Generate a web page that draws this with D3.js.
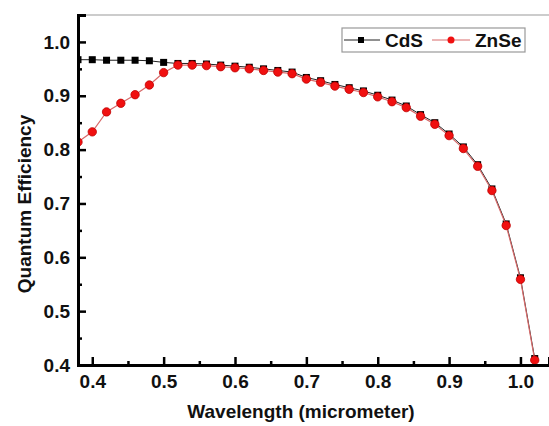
<!DOCTYPE html>
<html>
<head>
<meta charset="utf-8">
<script src="https://cdn.jsdelivr.net/npm/d3@7"></script>
<style>
  body { margin: 0; background: #fff; }
  text { font-family: "Liberation Sans", Arial, sans-serif; font-weight: bold; fill: #111; }
</style>
</head>
<body>
<div id="chart"></div>
<script>
const WIDTH = 549;
const HEIGHT = 426;

// wavelength in micrometer
const wavelength = [0.38, 0.40, 0.42, 0.44, 0.46, 0.48, 0.50, 0.52, 0.54, 0.56, 0.58, 0.60,
  0.62, 0.64, 0.66, 0.68, 0.70, 0.72, 0.74, 0.76, 0.78, 0.80, 0.82, 0.84, 0.86, 0.88,
  0.90, 0.92, 0.94, 0.96, 0.98, 1.00, 1.02];

const cds = [0.967, 0.967, 0.966, 0.966, 0.966, 0.965, 0.962, 0.960, 0.960, 0.959, 0.957, 0.955,
  0.953, 0.950, 0.947, 0.944, 0.934, 0.928, 0.921, 0.915, 0.909, 0.901, 0.892, 0.881, 0.865, 0.850,
  0.829, 0.805, 0.772, 0.727, 0.662, 0.562, 0.412];

const znse = [0.814, 0.833, 0.870, 0.886, 0.902, 0.920, 0.943, 0.957, 0.957, 0.956, 0.954, 0.952,
  0.950, 0.947, 0.944, 0.941, 0.931, 0.925, 0.918, 0.912, 0.906, 0.898, 0.889, 0.878, 0.862, 0.847,
  0.826, 0.802, 0.769, 0.724, 0.659, 0.559, 0.409];

const xTicks = [0.4, 0.5, 0.6, 0.7, 0.8, 0.9, 1.0];
const yTicks = [0.4, 0.5, 0.6, 0.7, 0.8, 0.9, 1.0];

const M = { left: 78, top: 15, right: 549, bottom: 365 };

const svg = d3.select("#chart")
  .append("svg")
    .attr("width", WIDTH)
    .attr("height", HEIGHT);

svg.append("clipPath")
  .attr("id", "plot-clip")
  .append("rect")
    .attr("x", M.left).attr("y", M.top)
    .attr("width", M.right - M.left).attr("height", M.bottom - M.top);

const x = d3.scaleLinear()
  .domain([0.38, 1.04])
  .range([M.left, M.right]);

const y = d3.scaleLinear()
  .domain([0.4, 1.05])
  .range([M.bottom, M.top]);

// top frame line
svg.append("line")
  .attr("x1", M.left).attr("x2", M.right)
  .attr("y1", M.top).attr("y2", M.top)
  .attr("stroke", "#bbb")
  .attr("stroke-width", 1.5);

const cdsData = wavelength.map((w, i) => ({ w, v: cds[i] }));
const znseData = wavelength.map((w, i) => ({ w, v: znse[i] }));

const line = d3.line().x(d => x(d.w)).y(d => y(d.v));

const plot = svg.append("g").attr("clip-path", "url(#plot-clip)");

plot.append("path")
  .datum(cdsData)
  .attr("d", line)
  .attr("fill", "none")
  .attr("stroke", "#222")
  .attr("stroke-width", 1);

plot.selectAll(".sq")
  .data(cdsData)
  .enter()
  .append("rect")
    .attr("class", "sq")
    .attr("x", d => x(d.w) - 3.5)
    .attr("y", d => y(d.v) - 3.5)
    .attr("width", 7)
    .attr("height", 7)
    .attr("fill", "#000");

plot.append("path")
  .datum(znseData)
  .attr("d", line)
  .attr("fill", "none")
  .attr("stroke", "#d86a6a")
  .attr("stroke-width", 1.2);

plot.selectAll(".dot")
  .data(znseData)
  .enter()
  .append("circle")
    .attr("class", "dot")
    .attr("cx", d => x(d.w))
    .attr("cy", d => y(d.v))
    .attr("r", 4.2)
    .attr("fill", "#f01010")
    .attr("stroke", "#c00000")
    .attr("stroke-width", 0.8);

// x axis, ticks pointing in
const xAxis = svg.append("g")
  .attr("transform", `translate(0,${M.bottom})`)
  .call(d3.axisBottom(x).tickValues(xTicks).tickSize(-8).tickPadding(10).tickFormat(d3.format(".1f")));
xAxis.append("g")
  .call(d3.axisBottom(x).tickValues(d3.range(0.45, 1.0, 0.1)).tickSize(-4).tickFormat(""));

// y axis, ticks pointing in
const yAxis = svg.append("g")
  .attr("transform", `translate(${M.left},0)`)
  .call(d3.axisLeft(y).tickValues(yTicks).tickSize(-8).tickPadding(8).tickFormat(d3.format(".1f")));
yAxis.append("g")
  .call(d3.axisLeft(y).tickValues(d3.range(0.45, 1.0, 0.1)).tickSize(-4).tickFormat(""));

svg.selectAll(".domain").attr("stroke", "#000").attr("stroke-width", 3);
svg.selectAll(".tick line").attr("stroke", "#000").attr("stroke-width", 2.5);
svg.selectAll(".tick text").style("font-size", "19px").attr("fill", "#111");

// axis titles
svg.append("text")
  .attr("x", 301)
  .attr("y", 418)
  .attr("text-anchor", "middle")
  .style("font-size", "19px")
  .text("Wavelength (micrometer)");

svg.append("text")
  .attr("transform", "translate(31,204) rotate(-90)")
  .attr("text-anchor", "middle")
  .style("font-size", "19px")
  .text("Quantum Efficiency");

// legend
const legend = svg.append("g");
legend.append("rect")
  .attr("x", 342).attr("y", 28)
  .attr("width", 183).attr("height", 24)
  .attr("fill", "#fff")
  .attr("stroke", "#999")
  .attr("stroke-width", 1.2);

legend.append("line")
  .attr("x1", 344).attr("x2", 380).attr("y1", 40).attr("y2", 40)
  .attr("stroke", "#222");
legend.append("rect")
  .attr("x", 358).attr("y", 37).attr("width", 6).attr("height", 6)
  .attr("fill", "#000");
legend.append("text")
  .attr("x", 385).attr("y", 47)
  .style("font-size", "19px")
  .text("CdS");

legend.append("line")
  .attr("x1", 432).attr("x2", 470).attr("y1", 40).attr("y2", 40)
  .attr("stroke", "#d86a6a");
legend.append("circle")
  .attr("cx", 451).attr("cy", 40).attr("r", 3.5)
  .attr("fill", "#f01010");
legend.append("text")
  .attr("x", 475).attr("y", 47)
  .style("font-size", "19px")
  .text("ZnSe");
</script>
</body>
</html>
